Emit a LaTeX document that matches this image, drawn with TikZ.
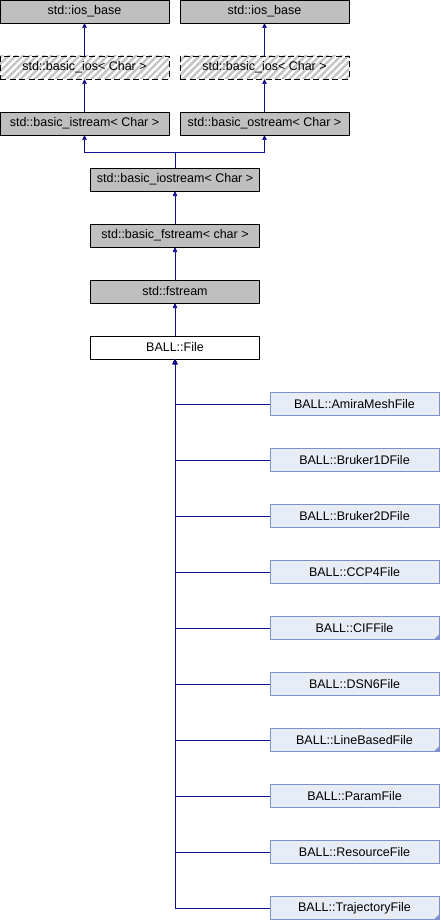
\documentclass[tikz,border=0pt]{standalone}
\usepackage{fontspec}
\setmainfont{Liberation Sans}
\usetikzlibrary{arrows.meta,positioning,patterns.meta}
\definecolor{dxnavy}{RGB}{16,16,140}
\definecolor{dxgray}{RGB}{191,191,191}
\definecolor{dxpale}{RGB}{232,236,245}
\definecolor{dxedge}{RGB}{122,146,204}
\definecolor{dxhatch}{RGB}{196,196,196}
\tikzstyle{inh} = [semithick,-{Triangle[length=5pt,width=4.5pt]},color=dxnavy]
\tikzstyle{cls} = [rectangle, minimum width=169pt, minimum height=23pt, inner sep=0pt, outer sep=0pt, text centered, font=\fontsize{12.5}{14}\selectfont]
\tikzstyle{stdcls} = [cls, draw=black, fill=dxgray]
\tikzstyle{tmplcls} = [cls, draw=black, dash pattern=on 6pt off 3.5pt, pattern={Lines[angle=45,distance=5pt,line width=2.4pt]}, pattern color=dxhatch]
\tikzstyle{ballcls} = [cls, draw=black, fill=white]
\tikzstyle{subcls} = [cls, draw=dxedge, fill=dxpale]
\newcommand{\moremark}[1]{\fill[dxedge] (#1.south east) -- ++(-5,0) -- ++(5,-5) -- cycle;}

\begin{document}
\begin{tikzpicture}[x=1pt, y=-1pt, node distance=56pt]
\useasboundingbox[fill=white] (0,0) rectangle (440,920);
% std streams
\node (iosl) [stdcls] at (84.5,11.5) {std::ios\_base};
\node (iosr) [stdcls] at (264.5,11.5) {std::ios\_base};
\node (basl) [tmplcls, below of=iosl] {std::basic\_ios< Char >};
\node (basr) [tmplcls, below of=iosr] {std::basic\_ios< Char >};
\node (istr) [stdcls, below of=basl] {std::basic\_istream< Char >};
\node (ostr) [stdcls, below of=basr] {std::basic\_ostream< Char >};
\node (iostr) [stdcls] at (175,179.5) {std::basic\_iostream< Char >};
\node (bfstr) [stdcls, below of=iostr] {std::basic\_fstream< char >};
\node (fstr) [stdcls, below of=bfstr] {std::fstream};
\node (file) [ballcls, below of=fstr] {BALL::File};

% Connections
\coordinate (fork) at (175,152);
\draw[inh] (basl) -- (iosl);
\draw[inh] (basr) -- (iosr);
\draw[inh] (istr) -- (basl);
\draw[inh] (ostr) -- (basr);
\draw[inh] (iostr) -- (fork) -| (istr);
\draw[inh] (fork) -| (ostr);
\draw[inh] (bfstr) -- (iostr);
\draw[inh] (fstr) -- (bfstr);
\draw[inh] (file) -- (fstr);

% Derived files
\node (amira) [subcls] at (354.5,404) {BALL::AmiraMeshFile};
\node (bruk1) [subcls, below of=amira] {BALL::Bruker1DFile};
\node (bruk2) [subcls, below of=bruk1] {BALL::Bruker2DFile};
\node (ccp4) [subcls, below of=bruk2] {BALL::CCP4File};
\node (cif) [subcls, below of=ccp4] {BALL::CIFFile};
\node (dsn6) [subcls, below of=cif] {BALL::DSN6File};
\node (lineb) [subcls, below of=dsn6] {BALL::LineBasedFile};
\node (param) [subcls, below of=lineb] {BALL::ParamFile};
\node (resrc) [subcls, below of=param] {BALL::ResourceFile};
\node (traj) [subcls, below of=resrc] {BALL::TrajectoryFile};
\moremark{cif}
\moremark{lineb}
\moremark{traj}

\foreach \c in {amira,bruk1,bruk2,ccp4,cif,dsn6,lineb,param,resrc,traj}
  \draw[inh] (\c) -| (file);
\end{tikzpicture}
\end{document}
